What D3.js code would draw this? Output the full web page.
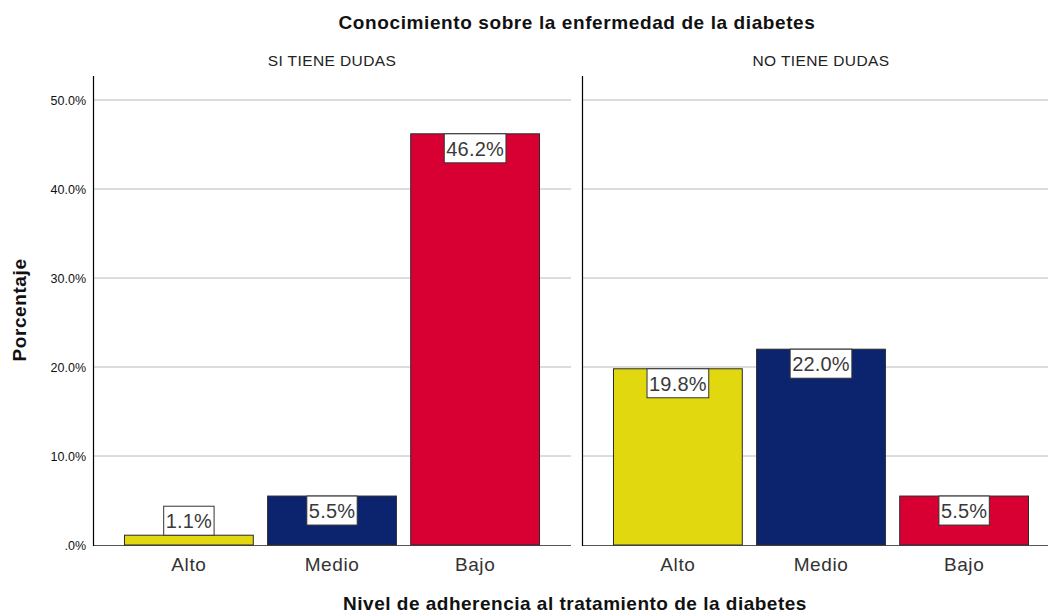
<!DOCTYPE html>
<html>

<head>
    <meta charset="utf-8">
    <title>Conocimiento sobre la enfermedad de la diabetes</title>
    <script src="https://cdn.jsdelivr.net/npm/d3@7"></script>
    <style>
        body { margin: 0; background: #fff; }
        svg { display: block; font-family: "Liberation Sans", Arial, sans-serif; }
    </style>
</head>

<body>
    <svg width="1048" height="613"></svg>
    <script>
        // datos
        const categories = ['Alto', 'Medio', 'Bajo']
        const panels = ['SI TIENE DUDAS', 'NO TIENE DUDAS']
        const siTieneDudas = [1.1, 5.5, 46.2]
        const noTieneDudas = [19.8, 22.0, 5.5]
        const yTicks = [0, 10, 20, 30, 40, 50]
        const colors = ['#e2d810', '#0c246e', '#d80032']

        const seriesByPanel = [siTieneDudas, noTieneDudas]
        const svg = d3.select('svg')

        const AXIS_TOP = 76, AXIS_BOTTOM = 545
        const panelLeft = [93, 582]
        const panelWidth = 478

        const y = d3.scaleLinear().domain([0, 50]).range([AXIS_BOTTOM, 100])

        // titulo
        svg.append('text')
            .attr('x', 577).attr('y', 29)
            .attr('text-anchor', 'middle')
            .attr('font-size', 19).attr('font-weight', 'bold')
            .attr('letter-spacing', 0.6)
            .attr('fill', '#111')
            .text('Conocimiento sobre la enfermedad de la diabetes')

        // eje Y titulo
        svg.append('text')
            .attr('transform', 'translate(26,310) rotate(-90)')
            .attr('text-anchor', 'middle')
            .attr('font-size', 19).attr('font-weight', 'bold')
            .attr('letter-spacing', 0.6)
            .attr('fill', '#111')
            .text('Porcentaje')

        // eje X titulo
        svg.append('text')
            .attr('x', 575).attr('y', 610)
            .attr('text-anchor', 'middle')
            .attr('font-size', 19).attr('font-weight', 'bold')
            .attr('letter-spacing', 0.5)
            .attr('fill', '#111')
            .text('Nivel de adherencia al tratamiento de la diabetes')

        // etiquetas del eje Y
        svg.selectAll('.ytick').data(yTicks).join('text')
            .attr('class', 'ytick')
            .attr('x', 86).attr('y', d => y(d) + 4.5)
            .attr('text-anchor', 'end')
            .attr('font-size', 12.5).attr('fill', '#111')
            .text(d => d === 0 ? '.0%' : d.toFixed(1) + '%')

        panels.forEach((name, p) => {
            const x0 = panelLeft[p]
            const x = d3.scaleBand().domain(categories)
                .range([x0, x0 + panelWidth])
                .paddingInner(0.1).paddingOuter(0.22)
            const g = svg.append('g')
            const values = seriesByPanel[p]

            // nombre del panel
            g.append('text')
                .attr('x', x0 + panelWidth / 2).attr('y', 66)
                .attr('text-anchor', 'middle')
                .attr('font-size', 15.5).attr('fill', '#222')
                .attr('letter-spacing', 0.4)
                .text(name)

            // lineas de cuadricula
            g.selectAll('.grid').data(yTicks.filter(d => d > 0)).join('line')
                .attr('class', 'grid')
                .attr('x1', x0).attr('x2', x0 + panelWidth)
                .attr('y1', d => y(d)).attr('y2', d => y(d))
                .attr('stroke', '#bababa').attr('stroke-width', 1)

            // linea base
            g.append('line')
                .attr('x1', x0).attr('x2', x0 + panelWidth)
                .attr('y1', AXIS_BOTTOM + 0.5).attr('y2', AXIS_BOTTOM + 0.5)
                .attr('stroke', '#555').attr('stroke-width', 1)

            // eje vertical
            g.append('line')
                .attr('x1', x0 + 0.5).attr('x2', x0 + 0.5)
                .attr('y1', AXIS_TOP).attr('y2', AXIS_BOTTOM + 1)
                .attr('stroke', '#000').attr('stroke-width', 1.2)

            // barras
            g.selectAll('.bar').data(values).join('rect')
                .attr('class', 'bar')
                .attr('x', (d, i) => x(categories[i]))
                .attr('y', d => y(d))
                .attr('width', x.bandwidth())
                .attr('height', d => AXIS_BOTTOM - y(d))
                .attr('fill', (d, i) => colors[i])
                .attr('stroke', '#2a2a2a').attr('stroke-width', 1)

            // etiquetas de categoria
            g.selectAll('.cat').data(categories).join('text')
                .attr('class', 'cat')
                .attr('x', d => x(d) + x.bandwidth() / 2)
                .attr('y', 571)
                .attr('text-anchor', 'middle')
                .attr('font-size', 19).attr('fill', '#333')
                .attr('letter-spacing', 0.6)
                .text(d => d)

            // etiquetas de valor
            const boxH = 29
            const lbl = g.selectAll('.lbl').data(values).join('g')
                .attr('class', 'lbl')
                .attr('transform', (d, i) => {
                    const cx = x(categories[i]) + x.bandwidth() / 2
                    const fits = AXIS_BOTTOM - y(d) > boxH + 4
                    const ty = fits ? y(d) : y(d) - boxH
                    return `translate(${cx},${ty})`
                })
            lbl.each(function (d) {
                const el = d3.select(this)
                const t = el.append('text')
                    .attr('x', 0).attr('y', 22)
                    .attr('text-anchor', 'middle')
                    .attr('font-size', 20).attr('fill', '#3a3a3a')
                    .attr('letter-spacing', 0.2)
                    .text(d.toFixed(1) + '%')
                const w = t.node().getComputedTextLength() + 4
                el.insert('rect', 'text')
                    .attr('x', -w / 2).attr('y', 0)
                    .attr('width', w).attr('height', boxH)
                    .attr('fill', '#fff')
                    .attr('stroke', '#333').attr('stroke-width', 1)
            })
        })
    </script>
</body>

</html>
